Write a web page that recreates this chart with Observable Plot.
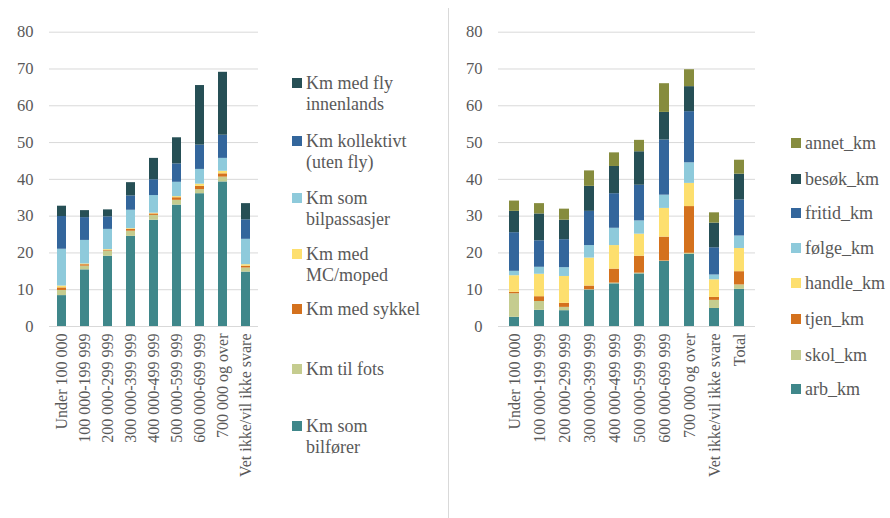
<!DOCTYPE html>
<html><head><meta charset="utf-8">
<script src="https://cdn.jsdelivr.net/npm/d3@7"></script>
<script src="https://cdn.jsdelivr.net/npm/@observablehq/plot@0.6"></script>
<style>
body{margin:0;background:#fff;}
.sep{position:absolute;left:448px;top:8px;width:1px;height:510px;background:#d9d9d9;}
.item{position:absolute;padding-left:14px;white-space:nowrap;font-size:18px;line-height:21px;color:#595959;}
.item .sw{position:absolute;left:0;top:5.5px;width:10px;height:10px;}
</style></head><body><div id="wrap" style="position:relative;width:890px;height:518px;overflow:hidden;font-family:'Liberation Serif';color:#595959;"><div class="sep"></div></div>
<script>
// ---------- data ----------
const incomeCats = ["Under 100 000","100 000-199 999","200 000-299 999","300 000-399 999","400 000-499 999","500 000-599 999","600 000-699 999","700 000 og over","Vet ikke/vil ikke svare"];
const purposeCats = [...incomeCats, "Total"];
const yTicks = [0,10,20,30,40,50,60,70,80];

// Left panel: km by transport mode (bottom to top)
const modeNames = ["Km som bilfører","Km til fots","Km med sykkel","Km med MC/moped","Km som bilpassasjer","Km kollektivt (uten fly)","Km med fly innenlands"];
const modeLegend = ["Km som<br>bilfører","Km til fots","Km med sykkel","Km med<br>MC/moped","Km som<br>bilpassasjer","Km kollektivt<br>(uten fly)","Km med fly<br>innenlands"];
const modeColors = ["#3f878a","#c5cc8f","#d4711d","#fddf6e","#8ecadb","#33669c","#264f55"];
const kmBilforer     = [8.4, 15.4, 19.1, 24.5, 28.9, 33.0, 36.1, 39.3, 14.8];
const kmFots         = [1.4, 1.0, 1.4, 1.4, 1.3, 1.3, 1.1, 1.3, 1.1];
const kmSykkel       = [0.7, 0.4, 0.2, 0.5, 0.4, 0.7, 0.9, 0.9, 0.5];
const kmMC           = [0.5, 0.2, 0.2, 0.2, 0.2, 0.3, 0.6, 0.7, 0.4];
const kmBilpassasjer = [10.0, 6.4, 5.5, 5.0, 4.8, 3.9, 4.0, 3.5, 6.9];
const kmKollektivt   = [8.9, 6.2, 3.4, 3.9, 4.3, 5.0, 6.6, 6.3, 5.3];
const kmFly          = [2.8, 1.9, 1.9, 3.6, 5.8, 7.1, 16.2, 17.1, 4.4];
const modeSeries = [kmBilforer, kmFots, kmSykkel, kmMC, kmBilpassasjer, kmKollektivt, kmFly];

// Right panel: km by purpose (bottom to top)
const purposeNames = ["arb_km","skol_km","tjen_km","handle_km","følge_km","fritid_km","besøk_km","annet_km"];
const purposeColors = ["#3f878a","#c5cc8f","#d4711d","#fddf6e","#8ecadb","#33669c","#264f55","#868c3e"];
const arbKm    = [2.5, 4.4, 4.3, 9.9, 11.6, 14.3, 17.7, 19.6, 4.9, 10.1];
const skolKm   = [6.4, 2.4, 0.9, 0.1, 0.2, 0.2, 0.1, 0.3, 2.2, 1.2];
const tjenKm   = [0.4, 1.3, 1.1, 1.0, 3.8, 4.6, 6.5, 12.7, 0.8, 3.6];
const handleKm = [4.5, 6.1, 7.3, 7.6, 6.4, 6.0, 7.8, 6.3, 4.8, 6.3];
const folgeKm  = [1.2, 1.9, 2.4, 3.4, 4.7, 3.6, 3.6, 5.6, 1.3, 3.4];
const fritidKm = [10.5, 7.2, 7.6, 9.3, 9.4, 9.7, 15.0, 13.9, 7.4, 9.8];
const besokKm  = [5.8, 7.3, 5.3, 6.8, 7.4, 9.1, 7.5, 6.8, 6.7, 7.0];
const annetKm  = [2.8, 2.8, 3.0, 4.2, 3.7, 3.1, 7.8, 4.6, 2.8, 3.8];
const purposeSeries = [arbKm, skolKm, tjenKm, handleKm, folgeKm, fritidKm, besokKm, annetKm];

// ---------- build ----------
const FONT = "Liberation Serif";
function rows(cats, names, series){
  const out = [];
  names.forEach((n,i)=> cats.forEach((c,j)=> out.push({cat:c, key:n, value:series[i][j]})));
  return out;
}
const wrap = document.getElementById("wrap");

function panel(cats, names, colors, series, width, mLeft, mRight, pad, left){
  const p = Plot.plot({
    width, height:518,
    marginLeft:mLeft, marginRight:mRight, marginTop:31.7, marginBottom:192,
    style:{fontSize:"16px", color:"#595959", background:"transparent", overflow:"visible"},
    x:{domain:cats, paddingInner:pad, paddingOuter:pad/2, label:null},
    y:{domain:[0,80], label:null},
    color:{domain:names, range:colors},
    marks:[
      Plot.gridY(yTicks, {stroke:"#d9d9d9", strokeOpacity:1, strokeWidth:1}),
      Plot.barY(rows(cats,names,series), {x:"cat", y:"value", z:"key", fill:"key", order:names}),
      Plot.axisY(yTicks, {tickSize:0, tickPadding:16, fontSize:16.5, label:null}),
      Plot.axisX({tickSize:0, tickRotate:-90, tickPadding:7, fontSize:16, label:null})
    ]
  });
  p.style.position = "absolute";
  p.style.top = "0px";
  p.style.left = left + "px";
  p.style.setProperty("font-family", FONT, "important");
  p.querySelectorAll("text, g").forEach(t => {
    t.setAttribute("font-family", FONT);
    t.style.setProperty("font-family", FONT, "important");
  });
  wrap.appendChild(p);
}
panel(incomeCats, modeNames, modeColors, modeSeries, 270, 49, 12, 0.59, 0);
panel(purposeCats, purposeNames, purposeColors, purposeSeries, 330, 58, 15, 0.61, 440);

// ---------- legends ----------
function legend(labels, colors, left, centers){
  labels.forEach((lab,i)=>{
    const d = document.createElement("div");
    d.className = "item";
    d.style.left = left + "px";
    d.style.top = (centers[i]-10.5) + "px";
    d.style.setProperty("font-family", FONT, "important");
    d.innerHTML = `<span class="sw" style="background:${colors[i]}"></span>${lab}`;
    wrap.appendChild(d);
  });
}
legend(modeLegend.slice().reverse(), modeColors.slice().reverse(), 292, [83,141,198,254,309,369,426]);
legend(purposeNames.slice().reverse(), purposeColors.slice().reverse(), 791, [143,179,213,248,283,319,355,389]);
</script></body></html>
